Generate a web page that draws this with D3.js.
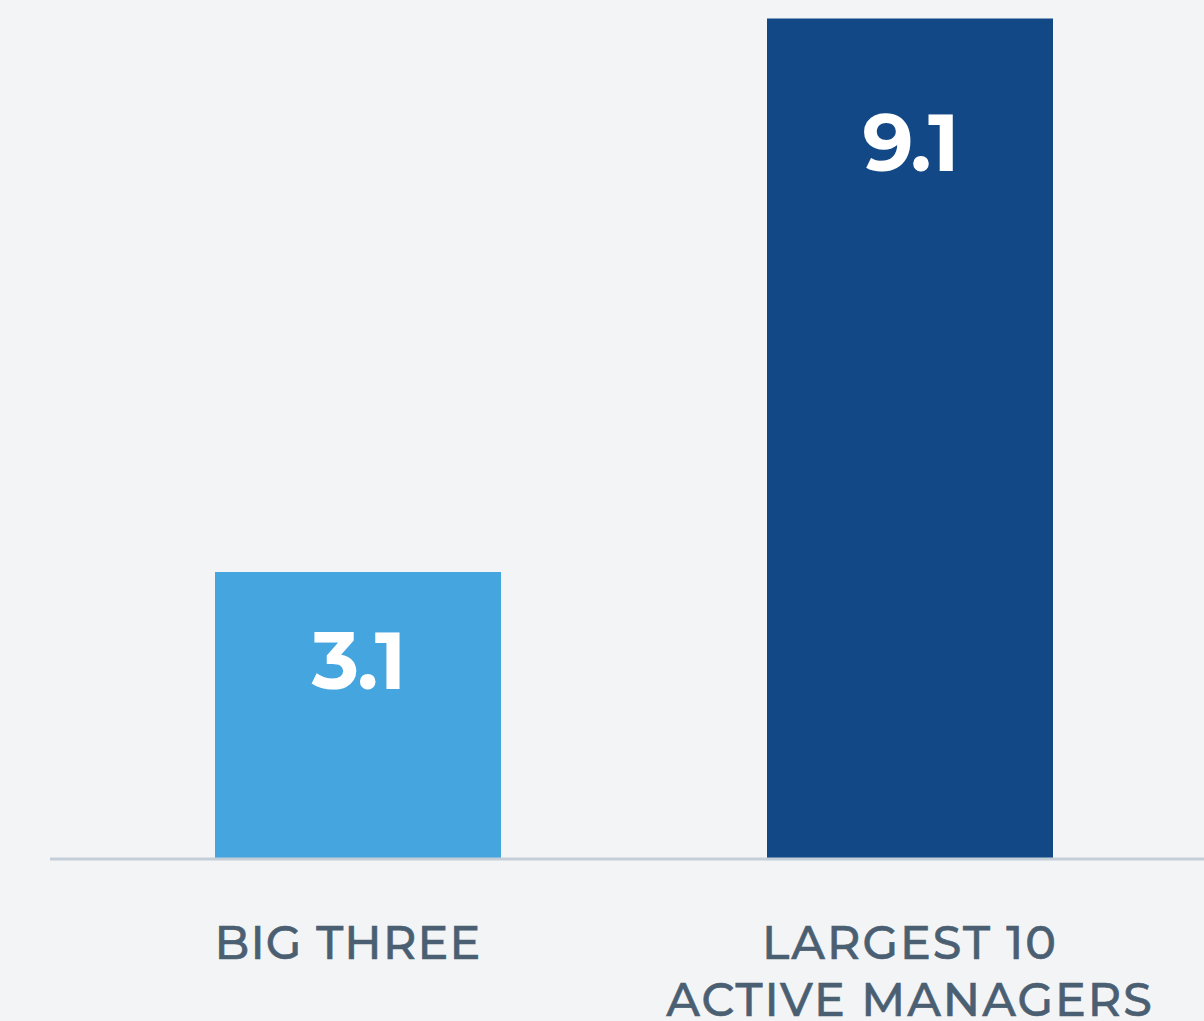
<!DOCTYPE html>
<html><head><meta charset="utf-8">
<script src="https://cdn.jsdelivr.net/npm/d3@7"></script>
<style>
html,body{margin:0;padding:0;background:#f3f4f6;}
svg{display:block;}
</style></head>
<body>
<svg id="chart" width="1204" height="1021"></svg>
<script>
const categories = ["BIG THREE", "LARGEST 10 ACTIVE MANAGERS"];
const categoryLines = [["BIG THREE"], ["LARGEST 10", "ACTIVE MANAGERS"]];
const values = [3.1, 9.1];
const colors = ["#45a5df", "#134886"];

const svg = d3.select("#chart");
const W = 1204, H = 1021;
svg.append("rect").attr("width", W).attr("height", H).attr("fill", "#f3f4f6");

const baseY = 858;
const xb = d3.scaleBand().domain(categories).range([215, 1053]).paddingInner(0.4819).paddingOuter(0);
const y = d3.scaleLinear().domain([0, 9.1]).range([baseY, 18.5]);

svg.selectAll("rect.bar").data(values).enter().append("rect")
  .attr("class", "bar")
  .attr("x", (d, i) => xb(categories[i]))
  .attr("width", xb.bandwidth())
  .attr("y", d => y(d))
  .attr("height", d => baseY - y(d))
  .attr("fill", (d, i) => colors[i]);

svg.append("line").attr("x1", 50).attr("x2", W).attr("y1", baseY + 1).attr("y2", baseY + 1)
  .attr("stroke", "#c3ced8").attr("stroke-width", 3);

svg.selectAll("text.val").data(values).enter().append("text")
  .attr("class", "val")
  .attr("x", (d, i) => xb(categories[i]) + xb.bandwidth() / 2)
  .attr("y", (d, i) => y(d) + (i === 0 ? 117 : 152))
  .attr("text-anchor", "middle")
  .attr("font-family", "Montserrat, Inter, 'Open Sans', sans-serif")
  .attr("font-weight", 700)
  .attr("font-size", 80)
  .attr("letter-spacing", -2)
  .attr("fill", "#ffffff")
  .text(d => d3.format(".1f")(d));

categoryLines.forEach((lines, i) => {
  const cx = xb(categories[i]) + xb.bandwidth() / 2 + (i === 0 ? -10 : 0);
  lines.forEach((ln, j) => {
    svg.append("text")
      .attr("x", cx)
      .attr("y", 959 + j * 57)
      .attr("text-anchor", "middle")
      .attr("font-family", "Montserrat, Inter, 'Open Sans', sans-serif")
      .attr("font-weight", 500)
      .attr("font-size", 46)
      .attr("letter-spacing", i === 0 ? 1.2 : 2)
      .attr("fill", "#4b5f72")
      .attr("stroke", "#4b5f72")
      .attr("stroke-width", 0.6)
      .text(ln);
  });
});
</script>
</body></html>
